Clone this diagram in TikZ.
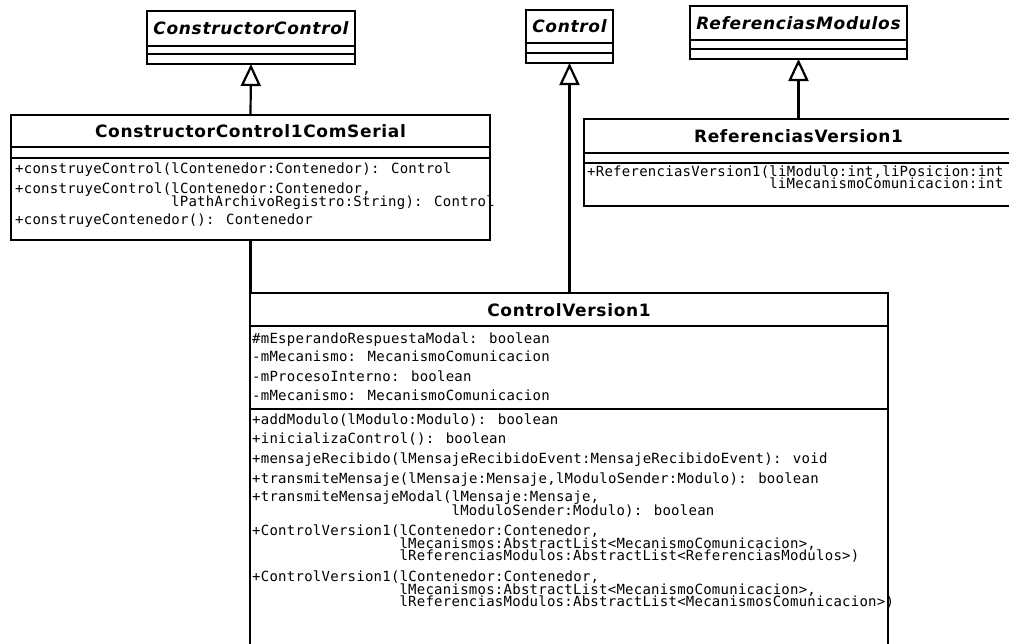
\documentclass[tikz,border=0pt]{standalone}
\usepackage{fontspec}
\usetikzlibrary{arrows.meta}
\newfontfamily\memberfont[LetterSpace=1.8]{DejaVu Sans Mono}
\newfontfamily\classfont[LetterSpace=4]{DejaVu Sans}
\tikzset{
  classbox/.style={draw, line width=2.6pt, inner sep=0pt, outer sep=0pt, anchor=north west},
  divider/.style={line width=2.6pt},
  titletext/.style={font=\classfont\bfseries\fontsize{17}{20}\selectfont, inner sep=0pt},
  abstitle/.style={font=\classfont\bfseries\itshape\fontsize{17}{20}\selectfont, inner sep=0pt},
  member/.style={font=\memberfont\fontsize{14}{13}\selectfont, anchor=west, inner sep=0pt, text height=10.4pt, text depth=3.2pt},
  gen/.style={line width=2.2pt, -{Triangle[open, length=22pt, width=20pt, line width=2.2pt]}},
  assoc/.style={line width=2.2pt},
}
\begin{document}
\begin{tikzpicture}[x=1pt,y=-1pt]
\useasboundingbox (0,0) rectangle (1009,643);
\fill[white] (0,0) rectangle (1009,643);
\clip (0,0) rectangle (1009,643);

% ---- ConstructorControl (abstract)
\node[classbox, minimum width=208pt, minimum height=53pt] (cc) at (147,11) {};
\node[abstitle] (cct) at (251,28.5) {ConstructorControl};
\draw[divider] (cc.west |- 0,46) -- (cc.east |- 0,46);
\draw[divider] (cc.west |- 0,54) -- (cc.east |- 0,54);

% ---- Control (abstract)
\node[classbox, minimum width=87pt, minimum height=53pt] (ctl) at (526,10) {};
\node[abstitle] (ctlt) at (569.5,26.5) {Control};
\draw[divider] (ctl.west |- 0,43) -- (ctl.east |- 0,43);
\draw[divider] (ctl.west |- 0,53) -- (ctl.east |- 0,53);

% ---- ReferenciasModulos (abstract)
\node[classbox, minimum width=217pt, minimum height=53pt] (rm) at (690,6) {};
\node[abstitle] (rmt) at (798.5,23) {ReferenciasModulos};
\draw[divider] (rm.west |- 0,40) -- (rm.east |- 0,40);
\draw[divider] (rm.west |- 0,49) -- (rm.east |- 0,49);

% ---- ConstructorControl1ComSerial
\node[classbox, minimum width=479pt, minimum height=125pt] (ccs) at (11,115) {};
\node[titletext] (ccst) at (250.5,131) {ConstructorControl1ComSerial};
\draw[divider] (ccs.west |- 0,147) -- (ccs.east |- 0,147);
\draw[divider] (ccs.west |- 0,158) -- (ccs.east |- 0,158);
\node[member] (ccs1) at (15,170) {+construyeControl(lContenedor:Contenedor): Control};
\node[member] (ccs2) at (15,190) {+construyeControl(lContenedor:Contenedor,};
\node[member] (ccs3) at (15,203) {\hphantom{+construyeControl(}lPathArchivoRegistro:String): Control};
\node[member] (ccs4) at (15,221) {+construyeContenedor(): Contenedor};

% ---- ReferenciasVersion1
\node[classbox, minimum width=429pt, minimum height=87pt] (rv) at (584,119) {};
\node[titletext] (rvt) at (798.5,136) {ReferenciasVersion1};
\draw[divider] (rv.west |- 0,153) -- (rv.east |- 0,153);
\draw[divider] (rv.west |- 0,163) -- (rv.east |- 0,163);
\node[member] (rv1) at (587,173) {+ReferenciasVersion1(liModulo:int,liPosicion:int};
\node[member] (rv2) at (587,185) {\hphantom{+ReferenciasVersion1(}liMecanismoComunicacion:int};

% ---- ControlVersion1
\node[classbox, minimum width=638pt, minimum height=380pt] (cv) at (250,293) {};
\node[titletext] (cvt) at (569,310) {ControlVersion1};
\draw[divider] (cv.west |- 0,326) -- (cv.east |- 0,326);
\draw[divider] (cv.west |- 0,409) -- (cv.east |- 0,409);
\node[member] (cva1) at (252,340) {\#mEsperandoRespuestaModal: boolean};
\node[member] (cva2) at (252,358) {-mMecanismo: MecanismoComunicacion};
\node[member] (cva3) at (252,378) {-mProcesoInterno: boolean};
\node[member] (cva4) at (252,397) {-mMecanismo: MecanismoComunicacion};
\node[member] (cvm1) at (252,421) {+addModulo(lModulo:Modulo): boolean};
\node[member] (cvm2) at (252,440) {+inicializaControl(): boolean};
\node[member] (cvm3) at (252,460) {+mensajeRecibido(lMensajeRecibidoEvent:MensajeRecibidoEvent): void};
\node[member] (cvm4) at (252,480) {+transmiteMensaje(lMensaje:Mensaje,lModuloSender:Modulo): boolean};
\node[member] (cvm5) at (252,498) {+transmiteMensajeModal(lMensaje:Mensaje,};
\node[member] (cvm6) at (252,512) {\hphantom{+transmiteMensajeModal(}lModuloSender:Modulo): boolean};
\node[member] (cvm7) at (252,532) {+ControlVersion1(lContenedor:Contenedor,};
\node[member] (cvm8) at (252,545) {\hphantom{+ControlVersion1(}lMecanismos:AbstractList<MecanismoComunicacion>,};
\node[member] (cvm9) at (252,557) {\hphantom{+ControlVersion1(}lReferenciasModulos:AbstractList<ReferenciasModulos>)};
\node[member] (cvm10) at (252,578) {+ControlVersion1(lContenedor:Contenedor,};
\node[member] (cvm11) at (252,591) {\hphantom{+ControlVersion1(}lMecanismos:AbstractList<MecanismoComunicacion>,};
\node[member] (cvm12) at (252,603) {\hphantom{+ControlVersion1(}lReferenciasModulos:AbstractList<MecanismosComunicacion>)};

% ---- connectors
\draw[gen] (ccs.north) -- (cc.south);
\draw[gen] (ctl.south |- cv.north) -- (ctl.south);
\draw[gen] (rv.north) -- (rm.south);
\draw[assoc] (ccs.south) -- (ccs.south |- cv.north);
\end{tikzpicture}
\end{document}
